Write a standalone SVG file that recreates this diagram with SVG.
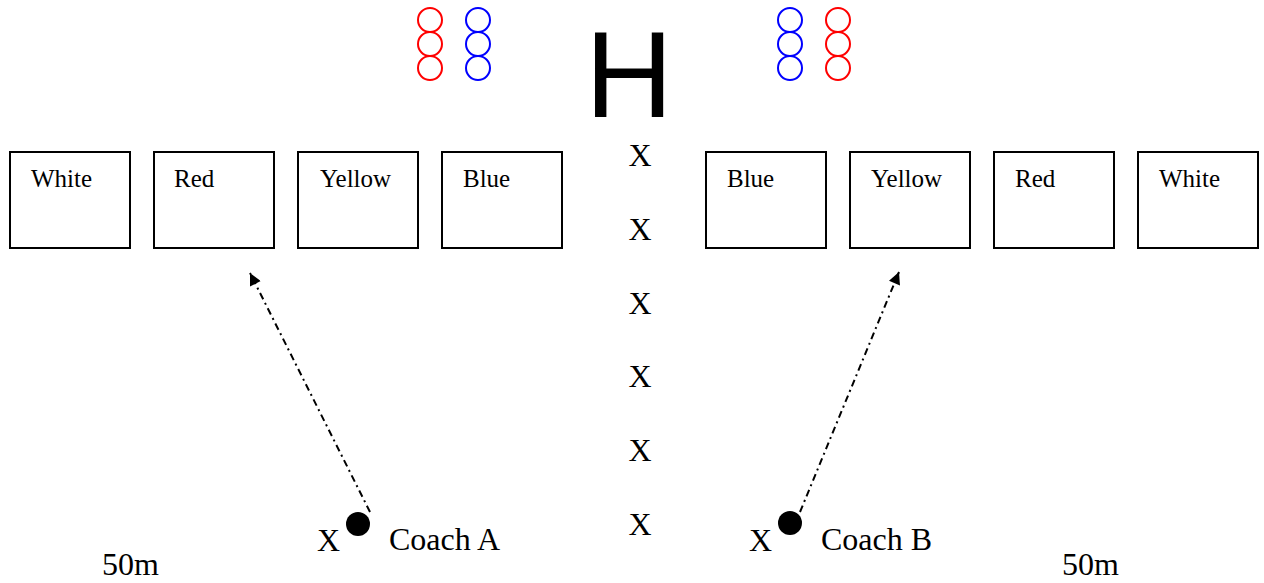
<svg xmlns="http://www.w3.org/2000/svg" width="1264" height="583" viewBox="0 0 1264 583">
<defs>
<style>
.box{fill:#fff;stroke:#000;stroke-width:2}
.lbl{font-family:"Liberation Serif",serif;font-size:25px;fill:#000}
.t{font-family:"Liberation Serif",serif;font-size:32px;fill:#000}
.r{fill:none;stroke:#f00;stroke-width:2}
.b{fill:none;stroke:#00f;stroke-width:2}
.arr{fill:none;stroke:#000;stroke-width:2;stroke-dasharray:7 4 2 4}
</style>
<marker id="ah" viewBox="0 0 10 10" refX="10" refY="5" markerWidth="14" markerHeight="12" markerUnits="userSpaceOnUse" orient="auto">
<path d="M0,0 L10,5 L0,10 z" fill="#000"/>
</marker>
</defs>
<rect width="1264" height="583" fill="#fff"/>
<g id="players">
<circle class="r" cx="430" cy="20" r="12"/><circle class="r" cx="430" cy="44" r="12"/><circle class="r" cx="430" cy="68" r="12"/>
<circle class="b" cx="478" cy="20" r="12"/><circle class="b" cx="478" cy="44" r="12"/><circle class="b" cx="478" cy="68" r="12"/>
<circle class="b" cx="790" cy="20" r="12"/><circle class="b" cx="790" cy="44" r="12"/><circle class="b" cx="790" cy="68" r="12"/>
<circle class="r" cx="838" cy="20" r="12"/><circle class="r" cx="838" cy="44" r="12"/><circle class="r" cx="838" cy="68" r="12"/>
</g>
<text id="H" x="629" y="117" text-anchor="middle" font-family="Liberation Sans, sans-serif" font-size="122">H</text>
<g id="box-white-l"><rect class="box" x="10" y="152" width="120" height="96"/><text class="lbl" x="31" y="187">White</text></g>
<g id="box-red-l"><rect class="box" x="154" y="152" width="120" height="96"/><text class="lbl" x="174" y="187">Red</text></g>
<g id="box-yellow-l"><rect class="box" x="298" y="152" width="120" height="96"/><text class="lbl" x="320" y="187">Yellow</text></g>
<g id="box-blue-l"><rect class="box" x="442" y="152" width="120" height="96"/><text class="lbl" x="463" y="187">Blue</text></g>
<g id="box-blue-r"><rect class="box" x="706" y="152" width="120" height="96"/><text class="lbl" x="727" y="187">Blue</text></g>
<g id="box-yellow-r"><rect class="box" x="850" y="152" width="120" height="96"/><text class="lbl" x="871" y="187">Yellow</text></g>
<g id="box-red-r"><rect class="box" x="994" y="152" width="120" height="96"/><text class="lbl" x="1015" y="187">Red</text></g>
<g id="box-white-r"><rect class="box" x="1138" y="152" width="120" height="96"/><text class="lbl" x="1159" y="187">White</text></g>
<g id="center-line">
<text class="t" x="640" y="166" text-anchor="middle">X</text>
<text class="t" x="640" y="240" text-anchor="middle">X</text>
<text class="t" x="640" y="314" text-anchor="middle">X</text>
<text class="t" x="640" y="387" text-anchor="middle">X</text>
<text class="t" x="640" y="461" text-anchor="middle">X</text>
<text class="t" x="640" y="535" text-anchor="middle">X</text>
</g>
<g id="coach-a">
<circle cx="358" cy="524" r="12" fill="#000"/>
<text class="t" x="317" y="551">X</text>
<text class="t" x="389" y="550">Coach A</text>
</g>
<g id="coach-b">
<circle cx="790" cy="523" r="12" fill="#000"/>
<text class="t" x="749" y="551">X</text>
<text class="t" x="821" y="550">Coach B</text>
</g>
<text id="dist-l" class="t" x="102" y="575">50m</text>
<text id="dist-r" class="t" x="1062" y="575">50m</text>
<g id="connectors">
<line class="arr" x1="370" y1="512" x2="250" y2="273" marker-end="url(#ah)"/>
<line class="arr" x1="800" y1="512" x2="899" y2="272" marker-end="url(#ah)"/>
</g>
</svg>
